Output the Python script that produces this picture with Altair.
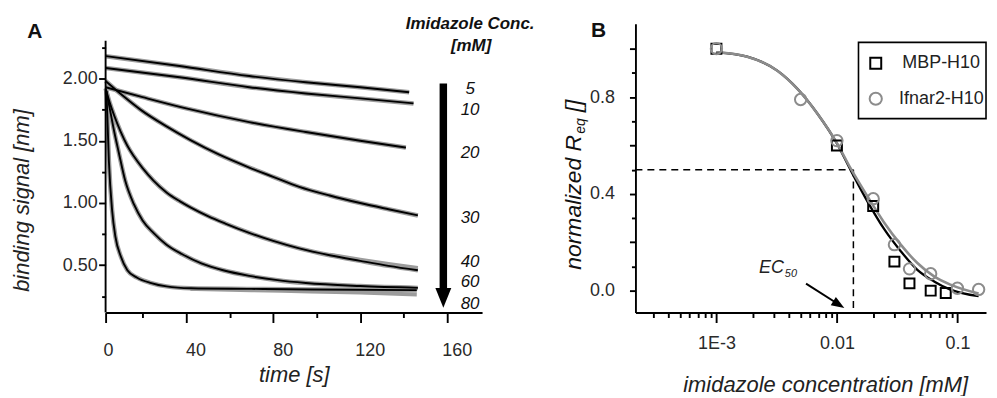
import altair as alt
import pandas as pd

FONT = "Liberation Sans"
INK = "#111111"
LABEL_INK = "#2a2a2a"
GREY = "#8c8c8c"
TRACE_GREY = "#9c9c9c"

# ---------------- Panel A : dissociation traces ----------------
conc_mM = ["5", "10", "20", "30", "40", "60", "80"]

t_5 = [3, 37, 69, 95, 120, 142.5]
v_5 = [2.18, 2.10, 2.02, 1.97, 1.93, 1.89]
t_10 = [3, 37, 69, 95, 120, 144.5]
v_10 = [2.085, 2.01, 1.93, 1.88, 1.84, 1.80]
t_20 = [3, 20, 40, 69, 95, 120, 141]
v_20 = [1.93, 1.85, 1.76, 1.65, 1.57, 1.50, 1.445]
t_30 = [3, 10, 19, 31, 42, 55, 69, 80, 92, 106, 120, 133, 146.5]
v_30 = [1.98, 1.875, 1.75, 1.615, 1.505, 1.39, 1.285, 1.21, 1.13, 1.06, 1.00, 0.95, 0.90]
t_40 = [3, 5, 7, 10, 13, 16, 20, 25, 31, 37, 42, 50, 58, 69, 80, 92, 106, 120, 133, 146.5]
v_40 = [1.92, 1.80, 1.70, 1.57, 1.46, 1.375, 1.28, 1.18, 1.085, 1.015, 0.965, 0.895, 0.835,
        0.76, 0.695, 0.635, 0.58, 0.535, 0.495, 0.46]
t_60 = [3.3, 5, 7, 9, 12, 16, 20, 25, 31, 38, 47, 57, 69, 82, 95, 120, 146.5]
v_60 = [1.90, 1.75, 1.57, 1.41, 1.18, 0.99, 0.86, 0.76, 0.665, 0.59, 0.515, 0.46, 0.415,
        0.38, 0.357, 0.333, 0.318]
t_80 = [3.4, 4.5, 6, 7.5, 10, 13, 17.5, 24, 31, 42, 70, 97, 146]
v_80 = [1.90, 1.34, 0.94, 0.73, 0.57, 0.46, 0.40, 0.357, 0.33, 0.315, 0.31, 0.305, 0.30]
# raw (grey) traces that drift slightly off their fits at late times
t_80_raw = [42, 70, 97, 120, 146]
v_80_raw = [0.31, 0.30, 0.29, 0.28, 0.265]
t_40_raw = [106, 120, 133, 146.5]
v_40_raw = [0.585, 0.545, 0.51, 0.478]

# curve labels at the right of panel A
conc_label_v = [1.912, 1.744, 1.40, 0.88, 0.524, 0.364, 0.192]

A_x_ticks = [3, 20, 40, 60, 80, 100, 120, 140, 160]
A_y_ticks = [0.25, 0.5, 0.75, 1.0, 1.25, 1.5, 1.75, 2.0, 2.25]

# ---------------- Panel B : equilibrium response ----------------
mbp_x = [0.001, 0.01, 0.02, 0.03, 0.04, 0.06, 0.08]
mbp_y = [1.00, 0.60, 0.35, 0.12, 0.03, 0.00, -0.01]
ifn_x = [0.001, 0.005, 0.01, 0.02, 0.03, 0.04, 0.06, 0.1, 0.15]
ifn_y = [1.00, 0.79, 0.62, 0.38, 0.19, 0.09, 0.07, 0.01, 0.005]

fit_x = [0.001, 0.0018, 0.0032, 0.0047, 0.0069, 0.01, 0.013, 0.018, 0.0247, 0.034, 0.0465, 0.064, 0.0875, 0.15]
fit_mbp = [0.985, 0.967, 0.909, 0.834, 0.731, 0.608, 0.498, 0.367, 0.254, 0.162, 0.086, 0.038, 0.004, -0.023]
fit_ifn = [0.985, 0.967, 0.909, 0.834, 0.731, 0.610, 0.505, 0.388, 0.281, 0.189, 0.114, 0.059, 0.025, -0.012]

EC50 = 0.0137

B_major = [0.001, 0.01, 0.1]
B_major_labels = ["1E-3", "0.01", "0.1"]
B_y_ticks = [0.0, 0.1, 0.2, 0.3, 0.4, 0.5, 0.6, 0.7, 0.8, 0.9, 1.0]
B_y_long = [0, 0.2, 0.4, 0.6, 0.8, 1.0]
B_y_labelled = [0, 0.4, 0.8]

# ---------------- scales ----------------
A_XDOM = [3, 176]
A_YDOM = [0.12, 2.44]
B_XDOM = [2.128e-4, 0.1727]
B_YDOM = [-0.0905, 1.103]

sAx = alt.Scale(domain=A_XDOM, nice=False, zero=False)
sAy = alt.Scale(domain=A_YDOM, nice=False, zero=False)
sBx = alt.Scale(type="log", domain=B_XDOM, nice=False)
sBy = alt.Scale(domain=B_YDOM, nice=False, zero=False)

common = dict(labelFont=FONT, labelFontSize=18, labelColor=LABEL_INK,
              titleFont=FONT, titleFontSize=22, titleFontStyle="italic",
              titleFontWeight="normal", titleColor="#222222",
              domainColor="black", domainWidth=1.9, tickColor="black",
              tickWidth=1.9, grid=False, labelFlush=False, labelOverlap=False)

axAx = alt.Axis(values=A_x_ticks, title="time [s]", titleY=52,
                labelExpr="datum.value == 3 ? '0' : (datum.value % 40 == 0 ? datum.label : '')",
                tickSize={"condition": {"test": "datum.value % 40 == 20", "value": 5}, "value": 10},
                labelOffset={"condition": {"test": "datum.value == 3", "value": 2.5}, "value": 9.5},
                labelPadding=19, **common)
axAy = alt.Axis(values=A_y_ticks, title="binding signal [nm]", titleX=-72, titleY=177,
                domain=False,
                labelExpr="datum.value % 0.5 == 0 ? format(datum.value, '.2f') : ''",
                tickSize={"condition": {"test": "datum.value % 0.5 != 0", "value": 4}, "value": 7},
                labelPadding=1.5, **common)

B_minor = [k * 10.0 ** e for e in (-4, -3, -2) for k in range(2, 10)]
B_minor = [m for m in B_minor if B_XDOM[0] <= m <= B_XDOM[1]]
B_x_ticks = sorted(B_minor + B_major)
maj_arr = "[" + ",".join(repr(v) for v in B_major) + "]"
lab_expr = "".join(f"datum.value == {v!r} ? '{l}' : " for v, l in zip(B_major, B_major_labels)) + "''"

axBx = alt.Axis(values=B_x_ticks, title="imidazole concentration [mM]", titleX=190.5, titleY=62,
                labelExpr=lab_expr,
                tickSize={"condition": {"test": f"indexof({maj_arr}, datum.value) < 0", "value": 5}, "value": 10},
                labelPadding=12, **common)
long_arr = "[" + ",".join(repr(v) for v in B_y_long) + "]"
lab_arr = "[" + ",".join(repr(v) for v in B_y_labelled) + "]"
axBy = alt.Axis(values=B_y_ticks, title=None,
                labelExpr=f"indexof({lab_arr}, datum.value) >= 0 ? format(datum.value, '.1f') : ''",
                tickSize={"condition": {"test": f"indexof({long_arr}, datum.value) < 0", "value": 4}, "value": 6},
                labelPadding=15, **common)

XA = alt.X("t:Q", scale=sAx, axis=axAx)
YA = alt.Y("v:Q", scale=sAy, axis=axAy)
XB = alt.X("x:Q", scale=sBx, axis=axBx)
YB = alt.Y("y:Q", scale=sBy, axis=axBy)

# ---------------- Panel A layers ----------------
frames = []
for name, ts, vs in zip(conc_mM, [t_5, t_10, t_20, t_30, t_40, t_60, t_80],
                        [v_5, v_10, v_20, v_30, v_40, v_60, v_80]):
    frames.append(pd.DataFrame({"t": ts, "v": vs, "conc": name}))
curvesA = pd.concat(frames, ignore_index=True)
raw_tails = pd.concat([pd.DataFrame({"t": t_80_raw, "v": v_80_raw, "conc": "80"}),
                       pd.DataFrame({"t": t_40_raw, "v": v_40_raw, "conc": "40"})], ignore_index=True)

grey_traces = alt.Chart(curvesA).mark_line(color=TRACE_GREY, strokeWidth=4.5, interpolate="monotone").encode(
    x=XA, y=YA, detail="conc:N")
grey_tail = alt.Chart(raw_tails).mark_line(color=TRACE_GREY, strokeWidth=4, interpolate="monotone").encode(
    x=XA, y=YA, detail="conc:N")
fits = alt.Chart(curvesA).mark_line(color="black", strokeWidth=1.9, interpolate="monotone").encode(
    x=XA, y=YA, detail="conc:N")

yaxisA = alt.Chart(pd.DataFrame({"t": [3], "v": [2.304], "v2": [A_YDOM[0]]})).mark_rule(
    color="black", strokeWidth=1.9).encode(x=XA, y=YA, y2="v2:Q")

conc_labels = alt.Chart(pd.DataFrame({"t": [170.5] * 7, "v": conc_label_v, "lab": conc_mM})).mark_text(
    font=FONT, fontSize=17, fontStyle="italic", color=INK, align="center", baseline="middle", clip=False
).encode(x=XA, y=YA, text="lab:N")

arrow_shaft = alt.Chart(pd.DataFrame({"t": [158.2], "v": [1.96], "v2": [0.31]})).mark_rule(
    color="black", strokeWidth=7.5).encode(x=XA, y=YA, y2="v2:Q")
arrow_head = alt.Chart(pd.DataFrame({"t": [158.2], "v": [0.2376]})).mark_point(
    shape="M-1,-1.25L1,-1.25L0,1.25Z", filled=True, color="black", opacity=1, size=256, strokeWidth=0
).encode(x=XA, y=YA)

def ptext(s, x, y, **kw):
    return alt.Chart(pd.DataFrame({"s": [s]})).mark_text(font=FONT, color=INK, **kw).encode(
        x=alt.value(x), y=alt.value(y), text="s:N")

A_label = ptext("A", -71, 8.5, fontSize=21, fontWeight="bold", align="center", baseline="middle")
conc_title1 = ptext("Imidazole Conc.", 366, 0, fontSize=17, fontWeight="bold", fontStyle="italic",
                    align="center", baseline="middle")
conc_title2 = ptext("[mM]", 367, 22, fontSize=17, fontWeight="bold", fontStyle="italic",
                    align="center", baseline="middle")

panelA = alt.layer(grey_traces, grey_tail, fits, yaxisA, conc_labels, arrow_shaft, arrow_head,
                   A_label, conc_title1, conc_title2).properties(width=378, height=290)

# ---------------- Panel B layers ----------------
dash_h = alt.Chart(pd.DataFrame({"x": [B_XDOM[0]], "x2": [EC50], "y": [0.5]})).mark_rule(
    color="black", strokeWidth=1.5, strokeDash=[7, 5]).encode(x=XB, x2="x2:Q", y=YB)
dash_v = alt.Chart(pd.DataFrame({"x": [EC50], "y": [0.5], "y2": [B_YDOM[0]]})).mark_rule(
    color="black", strokeWidth=1.5, strokeDash=[7, 5]).encode(x=XB, y=YB, y2="y2:Q")

fit_black = alt.Chart(pd.DataFrame({"x": fit_x, "y": fit_mbp})).mark_line(
    color="black", strokeWidth=2.3, interpolate="monotone").encode(x=XB, y=YB)
fit_grey = alt.Chart(pd.DataFrame({"x": fit_x, "y": fit_ifn})).mark_line(
    color=GREY, strokeWidth=2.6, interpolate="monotone").encode(x=XB, y=YB)

squares = alt.Chart(pd.DataFrame({"x": mbp_x, "y": mbp_y})).mark_point(
    shape="square", filled=False, color="black", strokeWidth=2, size=100, opacity=1).encode(x=XB, y=YB)
circles = alt.Chart(pd.DataFrame({"x": ifn_x, "y": ifn_y})).mark_point(
    shape="circle", filled=False, color=GREY, strokeWidth=2, size=130, opacity=1).encode(x=XB, y=YB)

ec_line = alt.Chart(pd.DataFrame({"x": [0.005543], "x2": [0.010368], "y": [0.0288], "y2": [-0.0572]})).mark_rule(
    color="black", strokeWidth=2).encode(x=XB, x2="x2:Q", y=YB, y2="y2:Q")
ec_head = alt.Chart(pd.DataFrame({"x": [0.010368], "y": [-0.0572]})).mark_point(
    shape="M-1,-0.75L1,0L-1,0.75Z", angle=32, filled=True, color="black", opacity=1, size=169, strokeWidth=0,
    clip=False).encode(x=XB, y=YB)
ec_text = alt.Chart(pd.DataFrame({"x": [0.003626], "y": [0.0728], "s": ["EC"]})).mark_text(
    font=FONT, fontSize=18, fontStyle="italic", color="#222222", align="right", baseline="alphabetic"
).encode(x=XB, y=YB, text="s:N")
ec_sub = alt.Chart(pd.DataFrame({"x": [0.003626], "y": [0.0576], "s": ["50"]})).mark_text(
    font=FONT, fontSize=11, fontStyle="italic", color="#222222", align="left", baseline="alphabetic", dx=1
).encode(x=XB, y=YB, text="s:N")

legend_box = alt.Chart(pd.DataFrame({"x": [0.0151], "x2": [B_XDOM[1]], "y": [1.026], "y2": [0.711]})).mark_rect(
    fill="white", stroke="black", strokeWidth=1.6, clip=False).encode(x=XB, x2="x2:Q", y=YB, y2="y2:Q")
leg_sq = alt.Chart(pd.DataFrame({"x": [0.021], "y": [0.9395]})).mark_point(
    shape="square", filled=False, color="black", strokeWidth=2, size=121, opacity=1).encode(x=XB, y=YB)
leg_ci = alt.Chart(pd.DataFrame({"x": [0.021], "y": [0.793]})).mark_point(
    shape="circle", filled=False, color=GREY, strokeWidth=2, size=150, opacity=1).encode(x=XB, y=YB)
leg_txt = alt.Chart(pd.DataFrame({"x": [0.0349, 0.0328], "y": [0.9395, 0.793], "s": ["MBP-H10", "Ifnar2-H10"]})).mark_text(
    font=FONT, fontSize=18, color="#222222", align="left", baseline="middle", clip=False
).encode(x=XB, y=YB, text="s:N")

B_label = ptext("B", -37, 7.5, fontSize=21, fontWeight="bold", align="center", baseline="middle")
ylab_main = ptext("normalized R", -55, 247, fontSize=23, fontStyle="italic", angle=270,
                  align="left", baseline="alphabetic")
ylab_sub = ptext("eq", -51, 110.5, fontSize=14, fontStyle="italic", angle=270,
                 align="left", baseline="alphabetic")
ylab_unit = ptext("[]", -55, 89, fontSize=23, fontStyle="italic", angle=270,
                  align="left", baseline="alphabetic")

panelB = alt.layer(dash_h, dash_v, fit_black, fit_grey, squares, circles, ec_line, ec_head, ec_text, ec_sub,
                   legend_box, leg_sq, leg_ci, leg_txt, B_label, ylab_main, ylab_sub, ylab_unit
                   ).properties(width=352, height=290)

chart = alt.hconcat(panelA, panelB, spacing=154, bounds="flush").properties(
    padding={"left": 3, "top": 6, "right": 0, "bottom": 0}
).configure_view(stroke=None)

chart.save("out.html", embed_options={"renderer": "svg", "actions": False})
